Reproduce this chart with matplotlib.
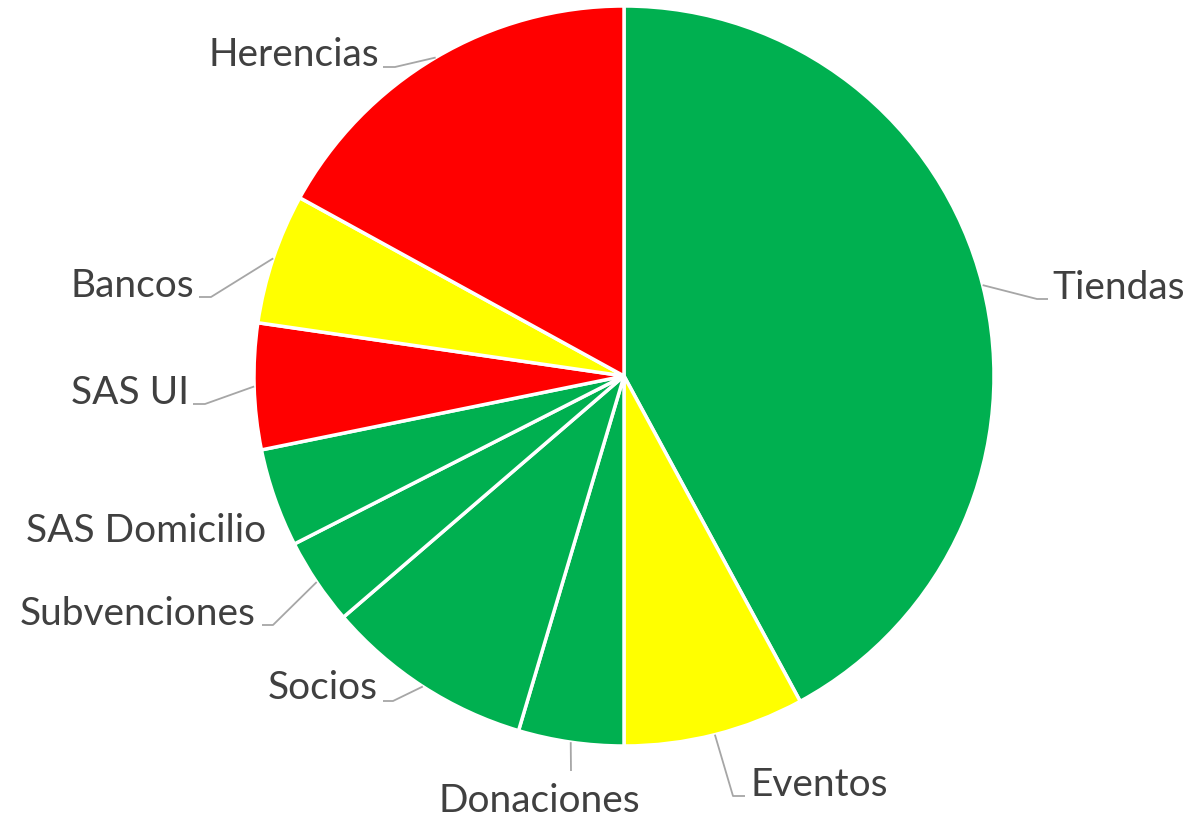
import numpy as np
import matplotlib
matplotlib.use("Agg")
import matplotlib.pyplot as plt

categories = ["Tiendas", "Eventos", "Donaciones", "Socios", "Subvenciones",
              "SAS Domicilio", "SAS UI", "Bancos", "Herencias"]
values = [42.1, 7.9, 4.6, 9.1, 3.8, 4.3, 5.5, 5.7, 17.0]
colors = ["#00B050", "#FFFF00", "#00B050", "#00B050", "#00B050",
          "#00B050", "#FF0000", "#FFFF00", "#FF0000"]

# layout (pixels in a 1193x820 canvas): text anchor, ha, elbow, end of leader
W, H = 1193, 820
CX, CY, R = 624, 377, 370
layout = {
    "Tiendas":       dict(text=(1052, 288), ha="left",   elbow=(1037, 300), end=(1048, 300)),
    "Eventos":       dict(text=(750, 785),  ha="left",   elbow=(733, 797),  end=(745, 797)),
    "Donaciones":    dict(text=(539, 801),  ha="center", elbow=(571, 772),  end=(571, 772)),
    "Socios":        dict(text=(378, 688),  ha="right",  elbow=(393, 702),  end=(383, 702)),
    "Subvenciones":  dict(text=(256, 614),  ha="right",  elbow=(273, 626),  end=(262, 626)),
    "SAS Domicilio": dict(text=(266, 531),  ha="right",  elbow=None,        end=None),
    "SAS UI":        dict(text=(189, 393),  ha="right",  elbow=(205, 405),  end=(193, 405)),
    "Bancos":        dict(text=(194, 286),  ha="right",  elbow=(211, 298),  end=(199, 298)),
    "Herencias":     dict(text=(379, 55),   ha="right",  elbow=(395, 68),   end=(383, 68)),
}

def px(p):
    return ((p[0] - CX) / R, (CY - p[1]) / R)

fig = plt.figure(figsize=(W / 100, H / 100), dpi=100)
ax = fig.add_axes([0, 0, 1, 1])

wedges, _ = ax.pie(values, colors=colors, startangle=90, counterclock=False,
                   radius=1.0, center=(0, 0), frame=True,
                   wedgeprops=dict(edgecolor="white", linewidth=2.5))
ax.set_xlim(-CX / R, (W - CX) / R)
ax.set_ylim(-(H - CY) / R, CY / R)
ax.set_aspect("auto")
ax.axis("off")

for w, name in zip(wedges, categories):
    mid = np.deg2rad((w.theta1 + w.theta2) / 2)
    sx, sy = np.cos(mid), np.sin(mid)
    L = layout[name]
    if L["elbow"] is not None:
        ex, ey = px(L["elbow"])
        nx, ny = px(L["end"])
        ax.plot([sx, ex, nx], [sy, ey, ny], color="#A6A6A6", lw=1.3,
                solid_capstyle="butt")
    tx, ty = px(L["text"])
    ax.text(tx, ty, name, ha=L["ha"], va="center", fontsize=28,
            color="#404040", family="Lato")

fig.savefig("out.png", dpi=100, facecolor="white")
